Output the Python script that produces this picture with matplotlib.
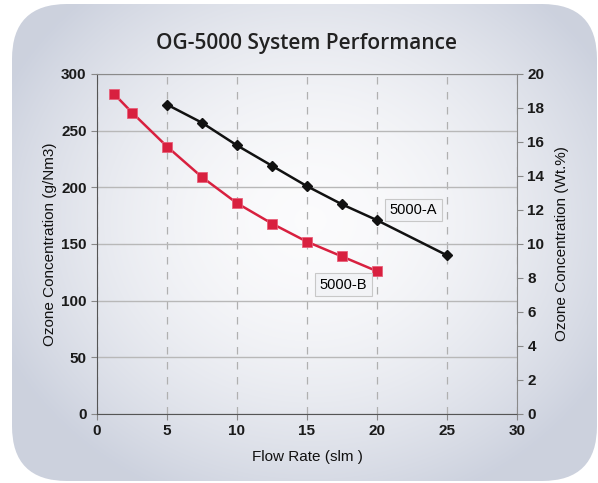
import numpy as np
import matplotlib
matplotlib.use("Agg")
import matplotlib.pyplot as plt
from matplotlib.patches import FancyBboxPatch

# data
flow_a = [5, 7.5, 10, 12.5, 15, 17.5, 20, 25]
conc_a = [273, 257, 237, 219, 201, 185, 171, 140]
flow_b = [1.25, 2.5, 5, 7.5, 10, 12.5, 15, 17.5, 20]
conc_b = [282, 266, 236, 209, 186, 168, 152, 139, 126]

x_ticks = [0, 5, 10, 15, 20, 25, 30]
y_ticks = [0, 50, 100, 150, 200, 250, 300]
y2_ticks = [0, 2, 4, 6, 8, 10, 12, 14, 16, 18, 20]

plt.rcParams['font.family'] = ['Liberation Sans', 'DejaVu Sans']

fig = plt.figure(figsize=(5.98, 4.83), dpi=100)
fig.patch.set_facecolor("white")

# rounded gradient background
bg = fig.add_axes([0, 0, 1, 1], zorder=-5)
bg.set_xlim(0, 598)
bg.set_ylim(483, 0)
bg.axis("off")
yy, xx = np.mgrid[0:483, 0:598]
r = np.sqrt(((xx - 310) / 340.0) ** 2 + ((yy - 220) / 300.0) ** 2)
r = np.clip(r, 0, 1)
c_in = np.array([0.985, 0.985, 0.99])
c_out = np.array([0.80, 0.82, 0.87])
w = r[..., None] ** 1.8
img = c_in[None, None, :] * (1 - w) + c_out[None, None, :] * w
im = bg.imshow(img, extent=(0, 598, 483, 0), aspect="auto")
box = FancyBboxPatch((12, 4), 585, 477, boxstyle="round,pad=0,rounding_size=55",
                     transform=bg.transData, facecolor="none", edgecolor="none")
bg.add_patch(box)
im.set_clip_path(box)

ax = fig.add_axes([0.1622, 0.1429, 0.7023, 0.7039])
ax.set_facecolor("none")

ax.plot(flow_a, conc_a, color="#111111", lw=1.8, marker="D", ms=5.5,
        markeredgecolor="#111111", zorder=4)
ax.plot(flow_b, conc_b, color="#d8203f", lw=1.8, marker="s", ms=7,
        markeredgecolor="#e8607a", markeredgewidth=0.6, zorder=4)

ax.set_xlim(0, 30)
ax.set_ylim(0, 300)
ax.set_xticks(x_ticks)
ax.set_yticks(y_ticks)
ax.tick_params(labelsize=11, length=4, color="#888888", labelcolor="#1a1a1a")
for lab in ax.get_xticklabels() + ax.get_yticklabels():
    lab.set_fontweight("bold")

ax.yaxis.grid(True, color="#b8b8b8", lw=1.0)
ax.xaxis.grid(True, color="#b0b0b0", lw=0.9, ls=(0, (6, 6)))
ax.set_axisbelow(True)
for s in ["left", "bottom"]:
    ax.spines[s].set_color("#555555")
for s in ["top", "right"]:
    ax.spines[s].set_color("#8a8a8a")

ax.set_xlabel("Flow Rate (slm )", fontsize=11, labelpad=8, color="#111111")
ax.set_ylabel("Ozone Concentration (g/Nm3)", fontsize=11, labelpad=3, color="#111111")

ax2 = ax.twinx()
ax2.set_ylim(0, 20)
ax2.set_yticks(y2_ticks)
ax2.tick_params(labelsize=11, length=4, color="#888888", labelcolor="#1a1a1a")
for lab in ax2.get_yticklabels():
    lab.set_fontweight("bold")
for s in ax2.spines.values():
    s.set_visible(False)
ax2.set_ylabel("Ozone Concentration (Wt.%)", fontsize=11, labelpad=8, color="#111111")

ax.text(22.6, 180, "5000-A", fontsize=10.5, ha="center", va="center", zorder=5,
        bbox=dict(boxstyle="square,pad=0.3", facecolor="#f2f3f6", edgecolor="#c8c8c8", lw=0.8))
ax.text(17.6, 114, "5000-B", fontsize=10.5, ha="center", va="center", zorder=5,
        bbox=dict(boxstyle="square,pad=0.3", facecolor="#f2f3f6", edgecolor="#c8c8c8", lw=0.8))

fig.text(0.513, 0.910, "OG-5000 System Performance", ha="center", va="center",
         fontsize=15, fontweight="semibold", family=["Open Sans", "DejaVu Sans"],
         color="#222222")

fig.savefig("out.png", dpi=100)
